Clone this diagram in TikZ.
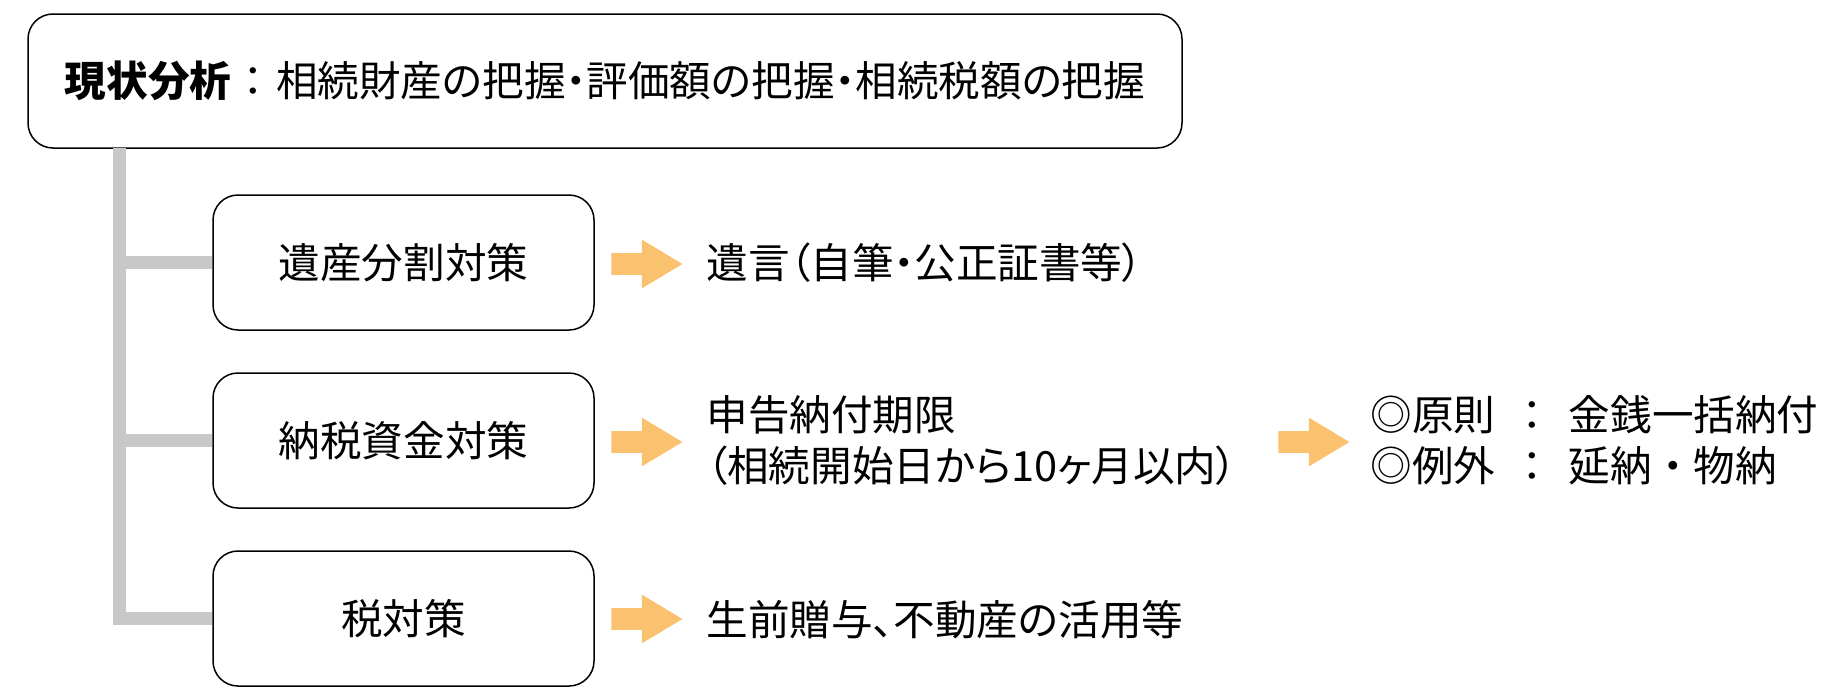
\documentclass[tikz,border=0pt]{standalone}
\usepackage{fontspec}
\setmainfont{Noto Sans CJK JP}
\newfontfamily\propjp{Noto Sans CJK JP}[RawFeature=+palt]
\usetikzlibrary{shapes.arrows}
\definecolor{treegray}{RGB}{200,200,200}
\definecolor{fatorange}{RGB}{250,193,110}
\tikzstyle{every node}=[inner sep=0pt, font=\fontsize{20.8}{25.5}\selectfont]
\tikzstyle{topbox}=[draw, line width=0.75pt, rounded corners=12.5pt, minimum width=577pt, minimum height=67pt]
\tikzstyle{subbox}=[draw, line width=0.75pt, rounded corners=12.5pt, minimum width=190.5pt, minimum height=67.5pt]
\tikzstyle{branch}=[treegray, line width=6.5pt]
\tikzstyle{fatarrow}=[single arrow, anchor=tail, fill=fatorange, inner ysep=5.25pt, minimum height=35.5pt, single arrow head extend=6.75pt, single arrow tip angle=62]
\tikzstyle{result}=[anchor=west, align=left]

\begin{document}
\begin{tikzpicture}[x=0.5pt, y=-0.5pt]
\useasboundingbox (0,0) rectangle (1840,696);
% Boxes
    \node[topbox, font=\fontsize{20.8}{25.5}\selectfont\propjp] (now) at (605,81)
        {\textbf{現状分析}\hspace{6pt}：\hspace{6pt}相続財産の把握・評価額の把握・相続税額の把握};
    \node[subbox] (div) at (403.5,262.5) {遺産分割対策};
    \node[subbox] (fund) at (403.5,440.5) {納税資金対策};
    \node[subbox] (tax) at (403.5,618.5) {税対策};
% Tree
    \coordinate (root) at (119.5,148);
    \draw[branch] (root) |- (tax.west);
    \draw[branch] (root |- div.west) -- (div.west);
    \draw[branch] (root |- fund.west) -- (fund.west);
% Arrows
    \node[fatarrow] (a1) at (611,264) {};
    \node[fatarrow] (a2) at (611,442) {};
    \node[fatarrow] (a3) at (611,619) {};
    \node[fatarrow] (a4) at (1278,442) {};
% Results
    \node[result, font=\fontsize{20.8}{25.5}\selectfont\propjp] (will) at (706,263) {遺言（自筆・公正証書等）};
    \node[result, font=\fontsize{20.8}{25.5}\selectfont\propjp] (due) at (706,440.5)
        {申告納付期限\\（相続開始日から10ヶ月以内）};
    \node[result, font=\fontsize{20.8}{25.5}\selectfont\propjp] (gift) at (706,620) {生前贈与、不動産の活用等};
    \node[result] (pay) at (1370,440.5)
        {◎原則\hspace{8pt}：\hspace{8pt}金銭一括納付\\◎例外\hspace{8pt}：\hspace{8pt}延納・物納};
\end{tikzpicture}
\end{document}
